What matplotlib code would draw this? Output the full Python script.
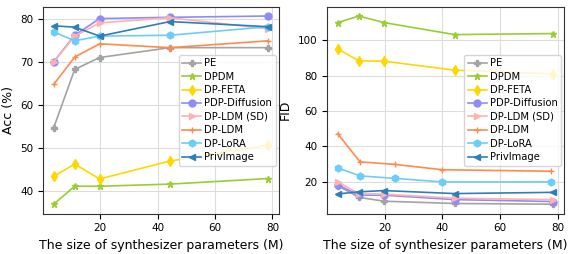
import matplotlib.pyplot as plt
import numpy as np

# synthesizer sizes (M)
x_main = [3.8, 11.1, 19.8, 44.3, 78.5]
x_ldm_fid = [3.8, 11.5, 23.6, 39.8, 77.6]

names = ['PE', 'DPDM', 'DP-FETA', 'PDP-Diffusion', 'DP-LDM (SD)', 'DP-LDM', 'DP-LoRA', 'PrivImage']

acc = {
    'PE':            [54.7, 68.3, 71.1, 73.4, 73.4],
    'DPDM':          [36.8, 41.0, 41.0, 41.5, 42.8],
    'DP-FETA':       [43.3, 46.2, 42.7, 46.9, 50.6],
    'PDP-Diffusion': [70.1, 76.3, 80.2, 80.5, 80.8],
    'DP-LDM (SD)':   [70.0, 76.1, 79.2, 80.4, 77.8],
    'DP-LDM':        [64.8, 71.2, 74.3, 73.4, 75.0],
    'DP-LoRA':       [77.1, 75.0, 76.1, 76.3, 78.3],
    'PrivImage':     [78.5, 78.2, 76.1, 79.5, 78.3],
}

fid = {
    'PE':            [17.9, 11.3, 9.1, 7.8, 7.4],
    'DPDM':          [110.0, 113.7, 110.0, 103.2, 103.8],
    'DP-FETA':       [95.1, 88.4, 88.2, 83.1, 81.0],
    'PDP-Diffusion': [18.4, 12.5, 12.5, 10.0, 8.9],
    'DP-LDM (SD)':   [20.0, 13.4, 13.1, 10.8, 10.0],
    'DP-LDM':        [47.2, 31.3, 29.9, 26.9, 26.0],
    'DP-LoRA':       [27.9, 23.4, 22.0, 20.0, 20.0],
    'PrivImage':     [13.2, 14.4, 15.1, 13.4, 14.1],
}

styles = {
    'PE':            ('#a3a3a3', 'P'),
    'DPDM':          ('#9acd32', '*'),
    'DP-FETA':       ('#ffd700', 'd'),
    'PDP-Diffusion': ('#8f8cf7', 'o'),
    'DP-LDM (SD)':   ('#ffb1b1', '>'),
    'DP-LDM':        ('#ff8a4c', '+'),
    'DP-LoRA':       ('#6ccdf7', 'h'),
    'PrivImage':     ('#2f7ebc', '<'),
}

fig = plt.figure(figsize=(5.71, 2.54), dpi=100)
ax1 = fig.add_axes([0.0753, 0.159, 0.413, 0.815])
ax2 = fig.add_axes([0.5727, 0.159, 0.415, 0.815])

for n in names:
    c, m = styles[n]
    ax1.plot(x_main, acc[n], color=c, marker=m, lw=1.2, ms=5, label=n)
    xs = x_ldm_fid if n in ('DP-LDM', 'DP-LoRA') else x_main
    ax2.plot(xs, fid[n], color=c, marker=m, lw=1.2, ms=5, label=n)

ax1.set_ylabel('Acc (%)', fontsize=9)
ax2.set_ylabel('FID', fontsize=9)
ax1.set_yticks([40, 50, 60, 70, 80])
ax2.set_yticks([20, 40, 60, 80, 100])

for ax in (ax1, ax2):
    ax.set_xlabel('The size of synthesizer parameters (M)', fontsize=9)
    ax.set_xticks([20, 40, 60, 80])
    ax.tick_params(labelsize=7.5)
    ax.grid(True, color='#dddddd', lw=0.8)
    ax.set_axisbelow(True)
    for s in ax.spines.values():
        s.set_color('#333333')
    ax.legend(loc='center right', fontsize=7.2, handlelength=1.9, labelspacing=0.34,
              borderpad=0.35, handletextpad=0.3, borderaxespad=0.3)

fig.savefig('out.png', dpi=100)
